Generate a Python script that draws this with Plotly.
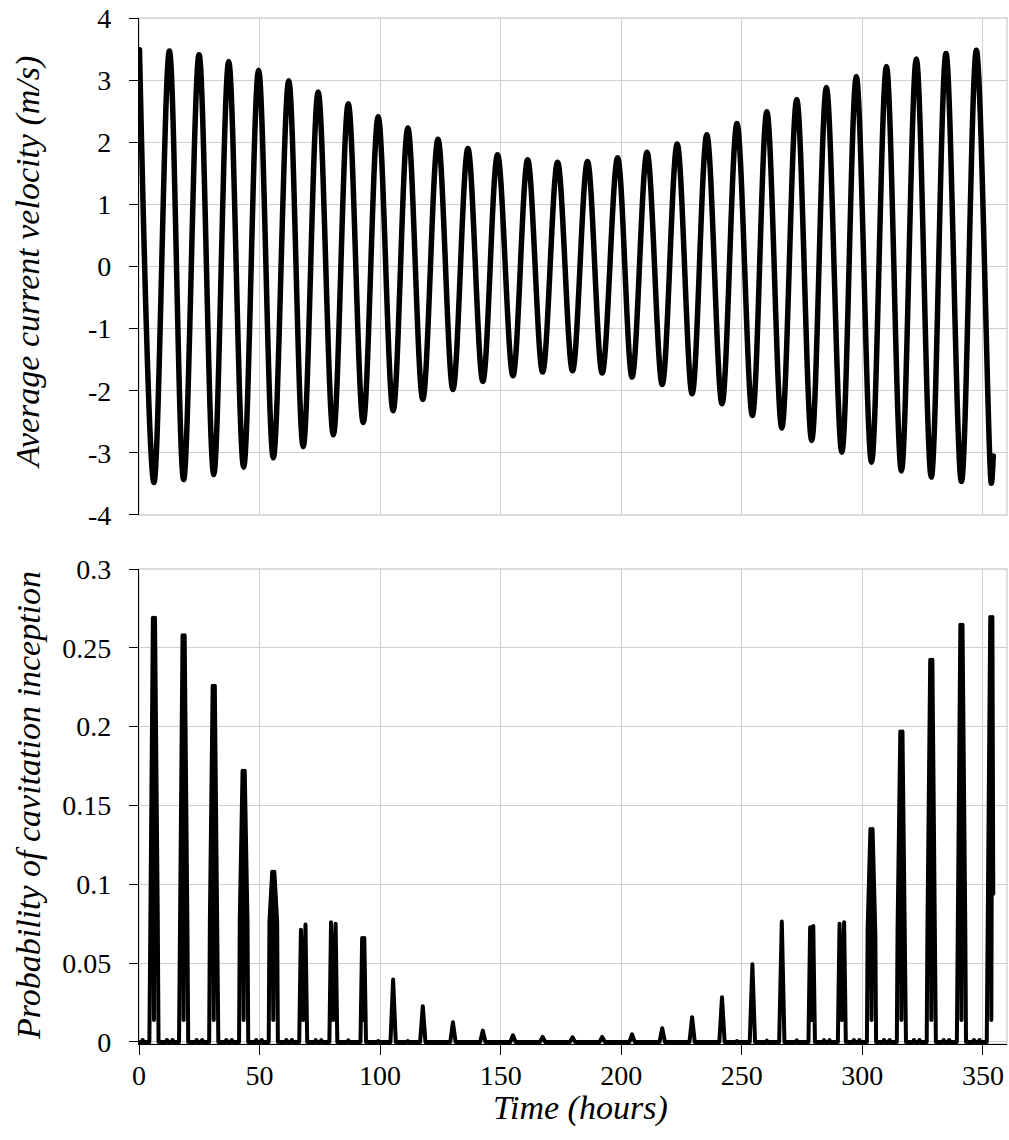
import plotly.graph_objects as go

# ---- Tidal current: alternating flood maxima and ebb maxima (hours, m/s) ----
peak_t = [0.2, 12.6, 24.9, 37.2, 49.6, 62.1, 74.3, 86.8, 99.2, 111.5,
          124.0, 136.4, 148.7, 161.2, 173.6, 186.0, 198.5, 210.7, 223.2, 235.5,
          248.0, 260.4, 272.8, 285.1, 297.5, 310.0, 322.4, 334.7, 347.3]
peak_v = [3.49, 3.47, 3.41, 3.30, 3.16, 2.99, 2.81, 2.62, 2.41, 2.23,
          2.05, 1.90, 1.80, 1.72, 1.68, 1.69, 1.75, 1.84, 1.97, 2.12,
          2.30, 2.49, 2.69, 2.88, 3.06, 3.22, 3.34, 3.43, 3.48]
trough_t = [6.2, 18.5, 31.0, 43.4, 55.7, 68.1, 80.6, 93.0, 105.4, 117.7,
            130.2, 142.6, 155.1, 167.4, 179.8, 192.1, 204.5, 217.0, 229.4, 241.8,
            254.4, 266.6, 279.0, 291.5, 303.8, 316.2, 328.6, 341.1, 353.5]
trough_v = [-3.475, -3.43, -3.35, -3.23, -3.08, -2.90, -2.71, -2.51, -2.32, -2.14,
            -1.98, -1.85, -1.76, -1.70, -1.68, -1.715, -1.78, -1.90, -2.05, -2.21,
            -2.40, -2.60, -2.80, -2.99, -3.15, -3.29, -3.39, -3.46, -3.49]
end_t = 354.3
end_v = -3.05

# ---- Cavitation inception probability, one burst per ebb maximum ----
# twin peak heights (equal for single bursts), shoulder heights (0 = none),
# spacing of the twin peaks in hours (0 = single peak)
burst_left = [0.269, 0.258, 0.226, 0.172, 0.108, 0.0711, 0.0760, 0.066, 0.0396, 0.0227,
              0.0125, 0.0072, 0.0042, 0.0032, 0.0030, 0.0032, 0.0048, 0.0087, 0.0157, 0.0284,
              0.0493, 0.0764, 0.0728, 0.0750, 0.135, 0.197, 0.2425, 0.2647, 0.2695]
burst_right = [0.269, 0.258, 0.226, 0.172, 0.108, 0.0745, 0.0750, 0.066, 0.0396, 0.0227,
               0.0125, 0.0072, 0.0042, 0.0032, 0.0030, 0.0032, 0.0048, 0.0087, 0.0157, 0.0284,
               0.0493, 0.0764, 0.0735, 0.0760, 0.135, 0.197, 0.2425, 0.2647, 0.2695]
shoulder_left = [0.077, 0.072, 0.077, 0.078, 0.076, 0, 0, 0, 0, 0,
                 0, 0, 0, 0, 0, 0, 0, 0, 0, 0,
                 0, 0, 0, 0, 0.072, 0.070, 0.071, 0.069, 0.073]
shoulder_right = [0.075, 0.070, 0.071, 0.076, 0.076, 0, 0, 0, 0, 0,
                  0, 0, 0, 0, 0, 0, 0, 0, 0, 0,
                  0, 0, 0, 0, 0.068, 0.074, 0.073, 0.072, 0.070]
twin_gap = [0.9, 0.9, 0.9, 0.9, 0.9, 1.9, 1.9, 0.9, 0, 0,
            0, 0, 0, 0, 0, 0, 0, 0, 0, 0,
            0, 0, 1.3, 1.9, 0.9, 0.9, 0.9, 0.9, 0.9]
burst_dip = 0.014
end_p = 0.094

# small blips near each flood maximum: count and height
blip_n = [2, 2, 2, 2, 2, 2, 2, 1, 1, 1,
          0, 0, 0, 0, 0, 0, 0, 0, 0, 0,
          1, 1, 1, 2, 2, 2, 2, 2, 2]
blip_h = [0.0012, 0.0012, 0.0012, 0.0012, 0.0012, 0.0012, 0.0011, 0.0010, 0.0006, 0.0005,
          0, 0, 0, 0, 0, 0, 0, 0, 0, 0,
          0.0006, 0.0008, 0.0010, 0.0011, 0.0012, 0.0012, 0.0012, 0.0012, 0.0012]

x_ticks = [0, 50, 100, 150, 200, 250, 300, 350]
v_ticks = [-4, -3, -2, -1, 0, 1, 2, 3, 4]
p_ticks = [0, 0.05, 0.1, 0.15, 0.2, 0.25, 0.3]
p_labels = ["0", "0.05", "0.1", "0.15", "0.2", "0.25", "0.3"]

# ---- assemble the two series ----
vel = sorted(zip(peak_t + trough_t, peak_v + trough_v))
vel.append((end_t, end_v))
vel_t = [p[0] for p in vel]
vel_v = [p[1] for p in vel]

pts = [(0.0, 0.0)]
for t0, pl, pr, sl, sr, g in zip(trough_t, burst_left, burst_right,
                                  shoulder_left, shoulder_right, twin_gap):
    if sl > 0:
        offs = [-1.9, -1.6, -g / 2, 0.0, g / 2, 1.6, 1.9]
        vals = [0.0, sl, pl, burst_dip, pr, sr, 0.0]
    elif g > 0:
        h = g / 2
        offs = [-h - 0.7, -h, 0.0, h, h + 0.7]
        vals = [0.0, pl, burst_dip, pr, 0.0]
    else:
        offs = [-1.1, 0.0, 1.1]
        vals = [0.0, pl, 0.0]
    pts += [(t0 + o, v) for o, v in zip(offs, vals)]

for tp, n, h in zip(peak_t, blip_n, blip_h):
    centres = [tp - 1.0, tp + 1.3] if n == 2 else ([tp] if n == 1 else [])
    for tc in centres:
        if tc - 0.45 > 0:
            pts += [(tc - 0.45, 0.0), (tc, h), (tc + 0.45, 0.0)]

pts = sorted(p for p in pts if p[0] < end_t)
pts.append((end_t, end_p))
prob_t = [p[0] for p in pts]
prob_v = [p[1] for p in pts]

# ---- figure ----
FONT = "Liberation Serif, Times New Roman, serif"
GRID = "#cfcfcf"

fig = go.Figure()
fig.add_trace(go.Scatter(x=vel_t, y=vel_v, mode="lines", xaxis="x", yaxis="y",
                         line=dict(color="black", width=5.5, shape="spline", smoothing=1),
                         showlegend=False, hoverinfo="skip"))
fig.add_trace(go.Scatter(x=prob_t, y=prob_v, mode="lines", xaxis="x2", yaxis="y2",
                         line=dict(color="black", width=4),
                         showlegend=False, hoverinfo="skip"))

tick_font = dict(family=FONT, size=28, color="black")
common_x = dict(range=[0, 360], tickvals=x_ticks, showgrid=True, gridcolor=GRID,
                gridwidth=1.3, zeroline=False)

fig.update_layout(
    width=1009, height=1140,
    margin=dict(l=139, r=2, t=18, b=96),
    paper_bgcolor="white", plot_bgcolor="white",
    font=dict(family=FONT, color="black"),
    xaxis=dict(domain=[0, 1], anchor="y", showticklabels=False, ticks="",
               showline=False, **common_x),
    yaxis=dict(domain=[0.5156, 1], anchor="x", range=[-4, 4], tickvals=v_ticks,
               ticktext=[str(v) for v in v_ticks], showgrid=True, gridcolor=GRID,
               gridwidth=1.3, zeroline=False, showline=True, linecolor="black",
               linewidth=1.3, ticks="outside", ticklen=9, tickwidth=1.3,
               tickcolor="black", tickfont=tick_font, ticklabelstandoff=12),
    xaxis2=dict(domain=[0, 1], anchor="y2", ticktext=[str(v) for v in x_ticks],
                showline=True, linecolor="black", linewidth=1.3, ticks="outside",
                ticklen=10, tickwidth=1.3, tickcolor="black", tickfont=tick_font,
                ticklabelstandoff=-4, **common_x),
    yaxis2=dict(domain=[0, 0.46296], anchor="x2", range=[-0.0013, 0.3],
                tickvals=p_ticks, ticktext=p_labels, showgrid=True, gridcolor=GRID,
                gridwidth=1.3, zeroline=False, showline=True, linecolor="black",
                linewidth=1.3, ticks="outside", ticklen=9, tickwidth=1.3,
                tickcolor="black", tickfont=tick_font, ticklabelstandoff=12),
    shapes=[
        dict(type="rect", xref="x domain", yref="y domain", x0=0, x1=1, y0=0, y1=1,
             line=dict(color=GRID, width=1.3), layer="below"),
        dict(type="rect", xref="x2 domain", yref="y2 domain", x0=0, x1=1, y0=0, y1=1,
             line=dict(color=GRID, width=1.3), layer="below"),
    ],
    annotations=[
        dict(text="<i>Average current velocity (m/s)</i>", xref="paper", yref="paper",
             x=-0.1279, y=0.7622, textangle=-90, showarrow=False,
             xanchor="center", yanchor="middle",
             font=dict(family=FONT, size=34, color="black")),
        dict(text="<i>Probability of cavitation inception</i>", xref="paper", yref="paper",
             x=-0.1279, y=0.2329, textangle=-90, showarrow=False,
             xanchor="center", yanchor="middle",
             font=dict(family=FONT, size=34, color="black")),
        dict(text="<i>Time (hours)</i>", xref="paper", yref="paper",
             x=0.5092, y=-0.0625, showarrow=False,
             xanchor="center", yanchor="middle",
             font=dict(family=FONT, size=34, color="black")),
    ],
)

# rounded joins and caps on the data lines
round_joins = """
document.querySelectorAll('.js-line').forEach(function (p) {
    p.style.strokeLinejoin = 'round';
    p.style.strokeLinecap = 'round';
});
"""

fig.write_html("out.html", post_script=round_joins)
